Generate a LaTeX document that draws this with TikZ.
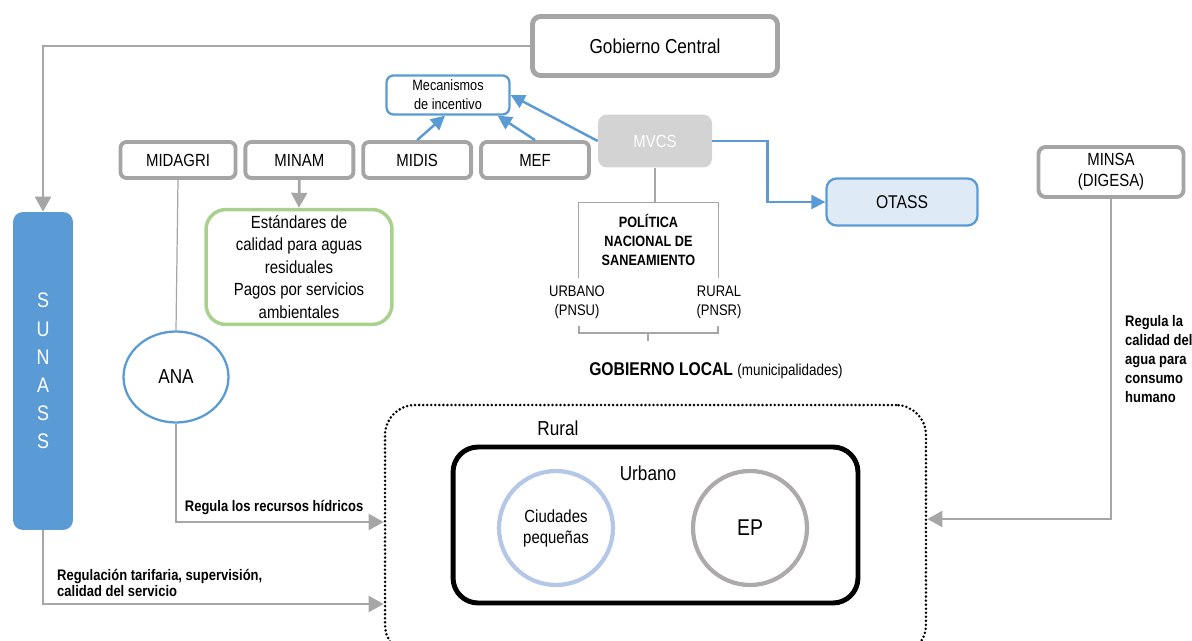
\documentclass[tikz,border=0pt]{standalone}
\usepackage{fontspec}
\setmainfont{Liberation Sans}[FakeStretch=0.85]
\usetikzlibrary{shapes.geometric,arrows.meta,positioning,calc}
\definecolor{linegray}{HTML}{A6A6A6}
\definecolor{boxgray}{HTML}{A5A5A5}
\definecolor{minblue}{HTML}{5B9BD5}
\definecolor{mvcsgray}{HTML}{D3D3D3}
\definecolor{otassblue}{HTML}{DEEBF7}
\definecolor{stdgreen}{HTML}{A9D18E}
\definecolor{cityblue}{HTML}{B4C7E7}
\definecolor{epgray}{HTML}{AEAAAA}

\begin{document}
\begin{tikzpicture}[x=0.02cm, y=-0.02cm, node distance=0.12cm,
    ministry/.style={draw=boxgray, line width=2.2pt, rounded corners=0.12cm, minimum width=2.16cm, minimum height=0.72cm, font=\fontsize{10}{12}\selectfont},
    garrow/.style={draw=linegray, line width=1.5pt, -{Triangle[length=8.5pt,width=9pt]}},
    barrow/.style={draw=minblue, line width=1.4pt, -{Triangle[length=8pt,width=8pt]}},
    thinline/.style={draw=linegray, line width=0.7pt},
    boldlabel/.style={font=\bfseries\fontsize{8.7}{9.2}\selectfont, align=left},
    ring/.style={circle, line width=2.4pt, minimum size=2.28cm, align=center}]
    \useasboundingbox (0,0) rectangle (1192,641);

    \node (central) [draw=boxgray, line width=2.8pt, rounded corners=0.16cm, minimum width=4.9cm, minimum height=1.18cm, font=\fontsize{11.5}{14}\selectfont] at (655,46) {Gobierno Central};
    \node (sunass) [fill=minblue, rounded corners=0.2cm, minimum width=1.2cm, minimum height=6.36cm, text=white, align=center, font=\fontsize{12}{16}\selectfont] at (43,371) {S\\U\\N\\A\\S\\S};
    \node (incentivo) [draw=minblue, line width=1.3pt, rounded corners=0.14cm, minimum width=2.46cm, minimum height=0.78cm, inner sep=1pt, align=center, font=\fontsize{8.5}{10.8}\selectfont] at (448,95) {Mecanismos\\de incentivo};
    \node (midagri) [ministry, minimum width=2.3cm] at (178,160) {MIDAGRI};
    \node (minam) [ministry, right=of midagri] {MINAM};
    \node (midis) [ministry, right=of minam] {MIDIS};
    \node (mef) [ministry, right=of midis] {MEF};
    \node (mvcs) [fill=mvcsgray, rounded corners=0.18cm, minimum width=2.28cm, minimum height=1.06cm, text=white, font=\fontsize{10}{12}\selectfont] at (655,141) {MVCS};
    \node (otass) [draw=minblue, fill=otassblue, line width=1.3pt, rounded corners=0.2cm, minimum width=3.02cm, minimum height=0.94cm, font=\fontsize{10.5}{12}\selectfont] at (902,202) {OTASS};
    \node (minsa) [draw=boxgray, line width=2.2pt, rounded corners=0.14cm, minimum width=2.9cm, minimum height=1.0cm, align=center, font=\fontsize{10}{12}\selectfont] at (1111,172) {MINSA\\(DIGESA)};
    \node (standards) [draw=stdgreen, line width=2pt, rounded corners=0.4cm, minimum width=3.72cm, minimum height=2.3cm, align=center, font=\fontsize{10}{12.75}\selectfont] at (299,267) {Estándares de\\calidad para aguas\\residuales\\Pagos por servicios\\ambientales};
    \node (ana) [draw=minblue, ellipse, line width=1.3pt, minimum width=2.1cm, minimum height=1.82cm, font=\fontsize{11.5}{14}\selectfont] at (176,377) {ANA};
    \node (policy) [minimum width=2.78cm, minimum height=1.5cm, align=center, font=\bfseries\fontsize{8.5}{10.8}\selectfont] at (648.5,240) {POLÍTICA\\NACIONAL DE\\SANEAMIENTO};
    \node (urbano pn) [align=center, font=\fontsize{8.7}{10.8}\selectfont] at (577,302) {URBANO\\(PNSU)};
    \node (rural pn) [align=center, font=\fontsize{8.7}{10.8}\selectfont] at (719,302) {RURAL\\(PNSR)};
    \node (local) [font=\fontsize{10.5}{12}\selectfont] at (716,371) {\textbf{GOBIERNO LOCAL} {\fontsize{9}{10}\selectfont(municipalidades)}};
    \node (ruralzone) [draw, line width=1.6pt, line cap=round, dash pattern=on 0pt off 2.3pt, rounded corners=0.6cm, minimum width=10.82cm, minimum height=5cm] at (655.5,530) {};
    \node (rural label) [font=\fontsize{11.5}{14}\selectfont] at (558,428) {Rural};
    \node (urbanzone) [draw, line width=2.8pt, rounded corners=0.5cm, minimum width=8.1cm, minimum height=3.12cm] at (655.5,525) {};
    \node (urbano label) [font=\fontsize{11.5}{14}\selectfont] at (648,473) {Urbano};
    \node (ciudades) [ring, draw=cityblue, font=\fontsize{10}{12}\selectfont] at (556,528) {Ciudades\\pequeñas};
    \node (ep) [ring, draw=epgray, font=\fontsize{13}{15}\selectfont] at (750,528) {EP};

    \draw [garrow] (central.west) -| (sunass.north);
    \draw [garrow] (minam.south) -- (standards.north);
    \draw [thinline] (midagri.south) -- (ana.north);
    \draw [garrow] (ana.south) |- node[pos=0.5, above right, boldlabel, xshift=1pt] {Regula los recursos hídricos} ($(ruralzone.west)+(0,-8)$);
    \draw [garrow] (sunass.south) |- node[pos=0.5, above right, boldlabel, xshift=4pt] {Regulación tarifaria, supervisión,\\calidad del servicio} ($(ruralzone.west)+(0,74)$);
    \draw [garrow] (minsa.south) |- node[pos=0.25, right, boldlabel, xshift=4pt, font=\bfseries\fontsize{8.7}{10.8}\selectfont] {Regula la\\calidad del\\agua para\\consumo\\humano} ($(ruralzone.east)+(0,-11)$);
    \draw [barrow] (midis.north) -- ($(incentivo.south)+(-3,0)$);
    \draw [barrow] (mef.north) -- ($(incentivo.south east)+(-13,0)$);
    \draw [barrow] (mvcs.west) -- (incentivo.east);
    \draw [barrow] (mvcs.east) -- ++(55,0) |- (otass.west);
    \draw [thinline] (mvcs.south) -- (mvcs.south |- policy.north);
    \draw [thinline] (policy.south west) -- (policy.north west) -- (policy.north east) -- (policy.south east);
    \draw [thinline] (579,326) -- (579,333) -- (718,333) -- (718,326);
    \draw [thinline] (648,333) -- (648,341);
\end{tikzpicture}
\end{document}
